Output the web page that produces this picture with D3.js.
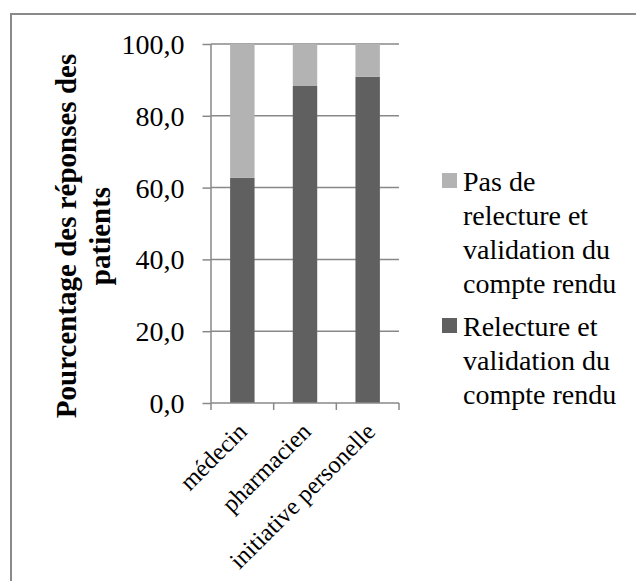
<!DOCTYPE html>
<html><head><meta charset="utf-8">
<script src="https://cdn.jsdelivr.net/npm/d3@7"></script>
<style>body{margin:0;background:#fff}svg{display:block}</style>
</head><body>
<script>
const categories = ["médecin", "pharmacien", "initiative personelle"];
const relecture = [62.7, 88.3, 90.9];
const pasRelecture = [37.3, 11.7, 9.1];
const yTicks = [0, 20, 40, 60, 80, 100];
const seriesNames = ["Pas de relecture et validation du compte rendu", "Relecture et validation du compte rendu"];
const legendLines = [["Pas de", "relecture et", "validation du", "compte rendu"], ["Relecture et", "validation du", "compte rendu"]];
const yTitle = ["Pourcentage des réponses des", "patients"];

const W = 636, H = 581;
const FONT = "Liberation Serif";
const svg = d3.select("body").append("svg").attr("width", W).attr("height", H)
  .style("font-family", FONT).attr("font-family", FONT);
const grid = "#888888";

// outer frame
svg.append("rect").attr("x", 11).attr("y", 14).attr("width", 640).attr("height", 600)
  .attr("fill", "none").attr("stroke", "#8a8a8a").attr("stroke-width", 2);

const x = d3.scaleBand().domain(categories).range([211, 399]).padding(0);
const y = d3.scaleLinear().domain([0, 100]).range([403, 44]);

// gridlines
svg.append("g").selectAll("line").data(yTicks.filter(d => d > 0)).join("line")
  .attr("x1", 211).attr("x2", 399).attr("y1", d => y(d)).attr("y2", d => y(d))
  .attr("stroke", grid).attr("stroke-width", 1.5);

// bars
const barW = x.bandwidth() * 0.39;
const stackData = categories.map((c, i) => ({ c, a: relecture[i], b: pasRelecture[i] }));
const g = svg.append("g");
g.selectAll("rect.a").data(stackData).join("rect").attr("class", "a")
  .attr("x", d => x(d.c) + x.bandwidth() / 2 - barW / 2).attr("width", barW)
  .attr("y", d => y(d.a)).attr("height", d => y(0) - y(d.a)).attr("fill", "#606060");
g.selectAll("rect.b").data(stackData).join("rect").attr("class", "b")
  .attr("x", d => x(d.c) + x.bandwidth() / 2 - barW / 2).attr("width", barW)
  .attr("y", d => y(d.a + d.b)).attr("height", d => y(d.a) - y(d.a + d.b)).attr("fill", "#b3b3b3");

// y axis
const yAxis = d3.axisLeft(y).tickValues(yTicks).tickSize(8.5).tickPadding(18)
  .tickFormat(d => d3.format(".1f")(d).replace(".", ","));
const ya = svg.append("g").attr("transform", "translate(211,0)").call(yAxis);
ya.attr("font-family", FONT).attr("font-size", 28);
ya.select(".domain").attr("stroke", grid).attr("stroke-width", 1.5).attr("d", "M0," + y(100) + "V" + y(0));
ya.selectAll(".tick line").attr("stroke", grid).attr("stroke-width", 1.5);
ya.selectAll(".tick text").style("font-family", FONT).attr("font-family", FONT).style("font-size", "28px").attr("fill", "#000").attr("dy", "0.34em");

// x axis
const xa = svg.append("g");
xa.append("line").attr("x1", 211).attr("x2", 399).attr("y1", y(0)).attr("y2", y(0)).attr("stroke", grid).attr("stroke-width", 1.5);
const bounds = categories.map(c => x(c)).concat([x.range()[1]]);
xa.selectAll("line.t").data(bounds).join("line").attr("class", "t")
  .attr("x1", d => d).attr("x2", d => d).attr("y1", y(0)).attr("y2", y(0) + 7)
  .attr("stroke", grid).attr("stroke-width", 1.5);
xa.selectAll("text").data(categories).join("text")
  .attr("transform", (d, i) => `translate(${x(d) + x.bandwidth() / 2 + 6 + i * 1.5},${y(0) + 30}) rotate(-45)`)
  .attr("text-anchor", "end").style("font-family", FONT).attr("font-family", FONT).style("font-size", "24.5px").attr("fill", "#000")
  .text(d => d);

// y title
const yt = svg.append("text").attr("transform", "translate(0,236) rotate(-90)")
  .attr("text-anchor", "middle").style("font-family", FONT).attr("font-family", FONT).style("font-weight", "bold")
  .style("font-size", "29px").attr("fill", "#000");
yt.selectAll("tspan").data(yTitle).join("tspan").attr("x", 0).attr("y", (d, i) => 76 + i * 34).text(d => d);

// legend
const legColors = ["#b3b3b3", "#606060"];
const legTop = [173, 318];
legendLines.forEach((lines, k) => {
  svg.append("rect").attr("x", 442).attr("y", legTop[k]).attr("width", 15).attr("height", 15).attr("fill", legColors[k]);
  const t = svg.append("text").style("font-family", FONT).attr("font-family", FONT).style("font-size", "28px").attr("fill", "#000");
  t.selectAll("tspan").data(lines).join("tspan").attr("x", 463).attr("y", (d, i) => legTop[k] + 18 + i * 34).text(d => d);
});
</script>
</body></html>
